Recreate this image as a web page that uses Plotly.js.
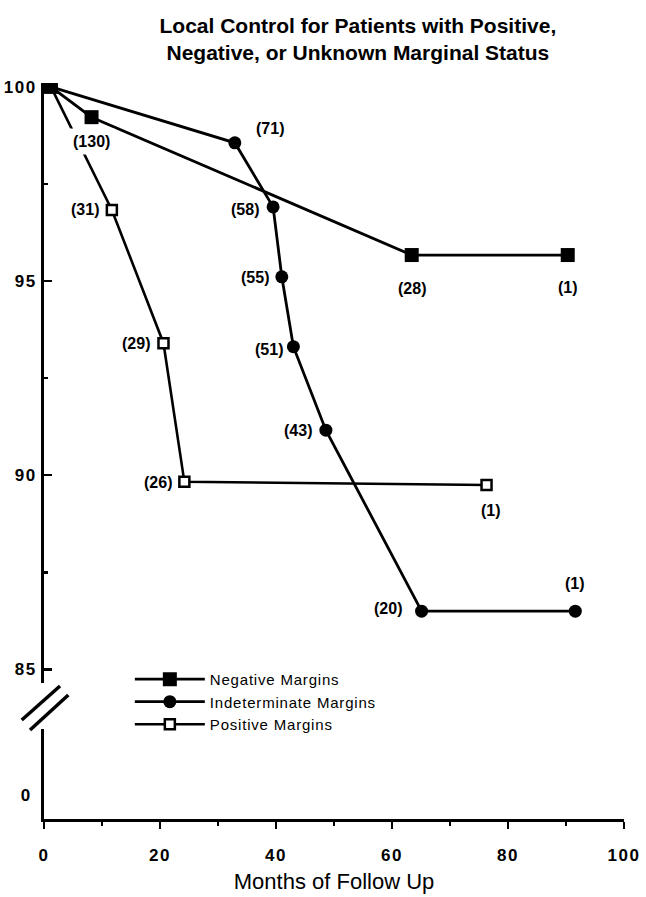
<!DOCTYPE html>
<html>
<head>
<meta charset="utf-8">
<script src="https://cdn.plot.ly/plotly-3.0.1.min.js"></script>
<style>
  html, body { margin: 0; padding: 0; background: #fff; }
  #chart { width: 646px; height: 897px; }
  .xtick text, .ytick text, .y2tick text { letter-spacing: 1.5px; }
  .legendtext { letter-spacing: 0.8px; }
</style>
</head>
<body>
<div id="chart"></div>
<script>
// ---- data ----
const negMonths   = [1.2, 8.2, 63.4, 90.3];
const negControl  = [100, 99.22, 95.67, 95.67];
const negCounts   = ['', '(130)', '(28)', '(1)'];

const indMonths   = [1.2, 32.9, 39.5, 41.0, 43.0, 48.6, 65.1, 91.6];
const indControl  = [100, 98.56, 96.91, 95.11, 93.31, 91.16, 86.5, 86.5];
const indCounts   = ['', '(71)', '(58)', '(55)', '(51)', '(43)', '(20)', '(1)'];

const posMonths   = [1.2, 11.7, 20.6, 24.2, 76.3];
const posControl  = [100, 96.83, 93.40, 89.83, 89.75];
const posCounts   = ['', '(31)', '(29)', '(26)', '(1)'];

const yTickVals   = [85, 90, 95, 100];
const yTickText   = ['85', '90', '95', '100'];
const xTickVals   = [0, 20, 40, 60, 80, 100];

// ---- label offsets / padding (pixels, style only) ----
const negShift = [null, [0, -24, 4], [0, -33, 2], [0, -32, 2]];
const indShift = [null, [35, 14, 2], [-28, -3, 2], [-27, -1, 2], [-24, -3, 2], [-28, 0, 2], [-34, 3, 2], [0, 28, 2]];
const posShift = [null, [-27, 0, 2], [-27, 0, 2], [-26, -1, 2], [4, -26, 2]];

const FONT = 'Liberation Sans, Arial, Helvetica, sans-serif';

const traces = [
  {
    name: 'Positive Margins', x: posMonths, y: posControl, xaxis: 'x', yaxis: 'y',
    mode: 'lines+markers', legendrank: 3,
    line: {color: '#000', width: 2.6},
    marker: {symbol: 'square', size: 10, color: '#fff', line: {color: '#000', width: 2.5}},
    hoverinfo: 'skip'
  },
  {
    name: 'Indeterminate Margins', x: indMonths, y: indControl, xaxis: 'x', yaxis: 'y',
    mode: 'lines+markers', legendrank: 2,
    line: {color: '#000', width: 2.8},
    marker: {symbol: 'circle', size: 13, color: '#000', line: {color: '#000', width: 0}},
    hoverinfo: 'skip'
  },
  {
    name: 'Negative Margins', x: negMonths, y: negControl, xaxis: 'x', yaxis: 'y',
    mode: 'lines+markers', legendrank: 1,
    line: {color: '#000', width: 2.8},
    marker: {symbol: 'square', size: 14, color: '#000', line: {color: '#000', width: 0}},
    hoverinfo: 'skip'
  }
];

const annotations = [];
function addLabels(xs, ys, labels, shifts) {
  labels.forEach((t, i) => {
    if (!t) return;
    annotations.push({
      x: xs[i], y: ys[i], xref: 'x', yref: 'y', text: t, showarrow: false,
      xshift: shifts[i][0], yshift: shifts[i][1],
      font: {family: FONT, size: 16, color: '#000', weight: 'bold'},
      bgcolor: '#fff', borderpad: shifts[i][2]
    });
  });
}
addLabels(negMonths, negControl, negCounts, negShift);
addLabels(indMonths, indControl, indCounts, indShift);
addLabels(posMonths, posControl, posCounts, posShift);

const layout = {
  width: 646, height: 897,
  margin: {l: 44, r: 22, t: 83, b: 78},
  paper_bgcolor: '#fff', plot_bgcolor: '#fff',
  font: {family: FONT, color: '#000'},
  title: {
    text: 'Local Control for Patients with Positive,<br>Negative, or Unknown Marginal Status',
    font: {family: FONT, size: 21, color: '#000', weight: 'bold'},
    x: 0.554, xanchor: 'center', xref: 'container',
    y: 0.963, yanchor: 'middle', yref: 'container'
  },
  showlegend: true,
  legend: {
    x: 0.148, xanchor: 'left', y: 0.212, yanchor: 'top',
    xref: 'paper', yref: 'paper',
    bgcolor: 'rgba(0,0,0,0)', borderwidth: 0,
    itemwidth: 70, traceorder: 'normal',
    font: {family: FONT, size: 15, color: '#000'}
  },
  xaxis: {
    range: [0, 100], anchor: 'y2', domain: [0, 1],
    showline: true, linecolor: '#000', linewidth: 3,
    showgrid: false, zeroline: false,
    tickvals: xTickVals, ticks: 'outside', ticklen: 7, tickwidth: 2.5, tickcolor: '#000',
    minor: {dtick: 10, tick0: 0, ticks: 'outside', ticklen: 4, tickwidth: 2.5, tickcolor: '#000', showgrid: false},
    tickfont: {family: FONT, size: 17, color: '#000', weight: 'bold'},
    ticklabelstandoff: 12,
    title: {text: 'Months of Follow Up', font: {family: FONT, size: 22, color: '#000'}, standoff: 10}
  },
  yaxis: {
    range: [84.65, 100.1], domain: [0.1848, 1], anchor: 'x',
    showline: true, linecolor: '#000', linewidth: 3,
    showgrid: false, zeroline: false,
    tickvals: yTickVals, ticktext: yTickText,
    ticks: 'inside', ticklen: 8, tickwidth: 2.5, tickcolor: '#000',
    minor: {dtick: 2.5, tick0: 0, ticks: 'inside', ticklen: 4, tickwidth: 2.5, tickcolor: '#000', showgrid: false},
    tickfont: {family: FONT, size: 17, color: '#000', weight: 'bold'},
    ticklabelstandoff: 1
  },
  yaxis2: {
    range: [-1, 2.75], domain: [0, 0.1223], anchor: 'x',
    showline: true, linecolor: '#000', linewidth: 3,
    showgrid: false, zeroline: false,
    tickvals: [0], ticktext: ['0'], ticks: '',
    tickfont: {family: FONT, size: 17, color: '#000', weight: 'bold'},
    ticklabelstandoff: 6
  },
  shapes: [
    {type: 'line', xref: 'paper', yref: 'paper', x0: -0.0384, y0: 0.1345, x1: 0.0276, y1: 0.1807, line: {color: '#000', width: 3.5}},
    {type: 'line', xref: 'paper', yref: 'paper', x0: -0.0241, y0: 0.1209, x1: 0.0419, y1: 0.1685, line: {color: '#000', width: 3.5}}
  ],
  annotations: annotations
};

// an invisible point so the lower (0) axis segment is drawn
traces.push({x: [0], y: [0], xaxis: 'x', yaxis: 'y2', mode: 'markers', marker: {opacity: 0}, showlegend: false, hoverinfo: 'skip'});

Plotly.newPlot('chart', traces, layout, {displayModeBar: false, staticPlot: true});
</script>
</body>
</html>
